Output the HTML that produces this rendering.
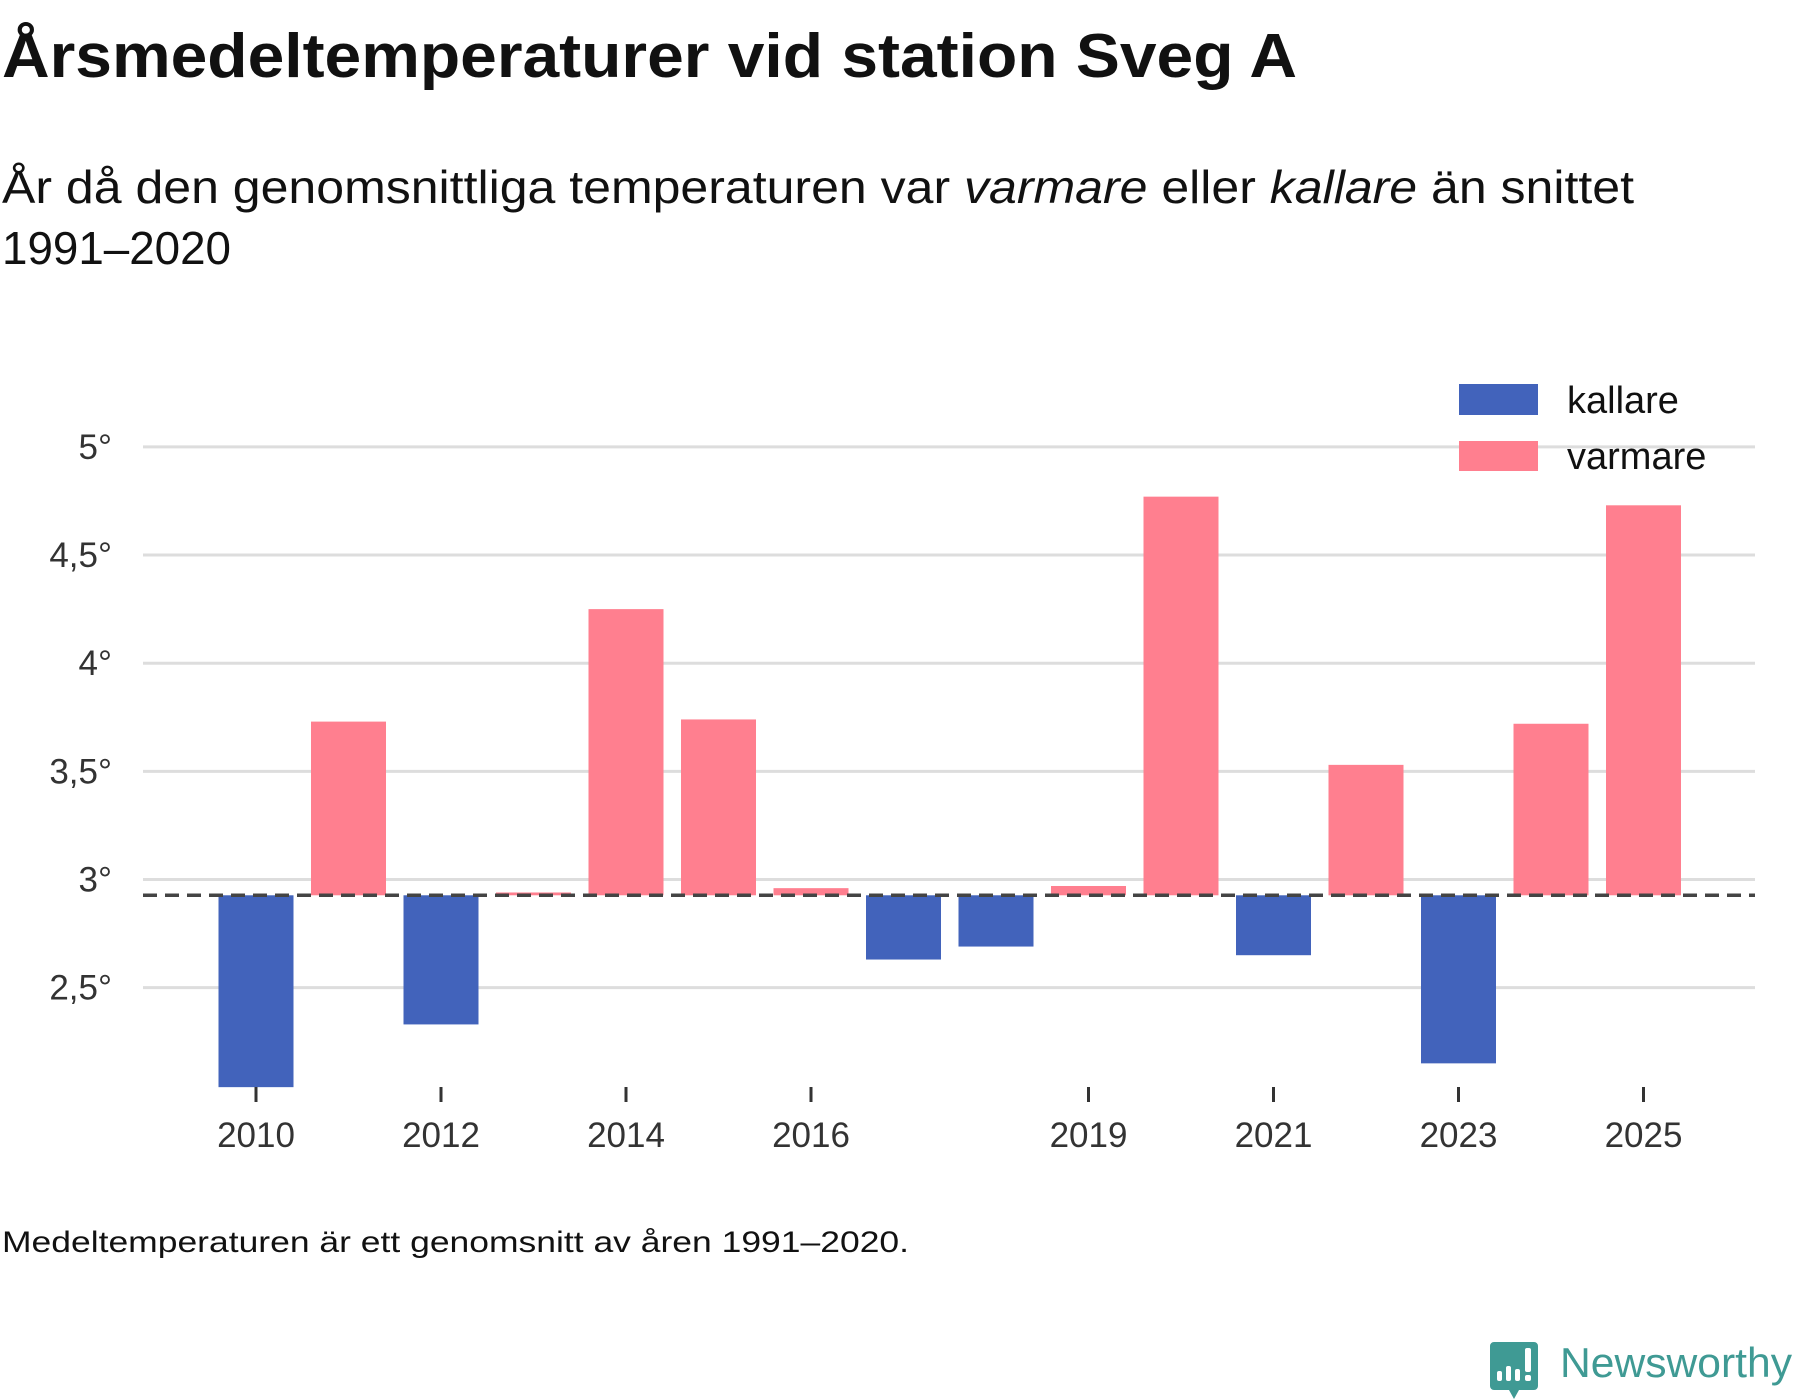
<!DOCTYPE html>
<html><head><meta charset="utf-8"><style>
html,body{margin:0;padding:0;background:#fff;}
svg{display:block;font-family:"Liberation Sans",sans-serif;}
</style></head><body>
<svg id="chart" width="1800" height="1400" viewBox="0 0 1800 1400" xmlns="http://www.w3.org/2000/svg">
<text x="2" y="77" font-size="62" font-weight="bold" fill="#111" textLength="1295" lengthAdjust="spacingAndGlyphs">Årsmedeltemperaturer vid station Sveg A</text>
<text x="2" y="203" font-size="46" fill="#111" textLength="1632" lengthAdjust="spacingAndGlyphs">År då den genomsnittliga temperaturen var <tspan font-style="italic">varmare</tspan> eller <tspan font-style="italic">kallare</tspan> än snittet</text>
<text x="2" y="264" font-size="46" fill="#111" textLength="229" lengthAdjust="spacingAndGlyphs">1991–2020</text>
<g id="grid"></g><g id="bars"></g><g id="axes"></g>
<g>
<rect x="1459" y="384" width="79" height="31" fill="#4263BB"/>
<text x="1567" y="413" font-size="38" fill="#111">kallare</text>
<rect x="1459" y="441" width="79" height="30" fill="#FF7F8F"/>
<text x="1567" y="469" font-size="38" fill="#111">varmare</text>
</g>
<text x="2" y="1252" font-size="30" fill="#111" textLength="907" lengthAdjust="spacingAndGlyphs">Medeltemperaturen är ett genomsnitt av åren 1991–2020.</text>
<g>
<path d="M1494 1342 h40 a4 4 0 0 1 4 4 v40 a4 4 0 0 1 -4 4 h-15 l-5 9 l-5 -9 h-15 a4 4 0 0 1 -4 -4 v-40 a4 4 0 0 1 4 -4z" fill="#3F9A94"/>
<rect x="1497" y="1371" width="5" height="10" rx="2" fill="#fff"/>
<rect x="1506" y="1366" width="5" height="15" rx="2" fill="#fff"/>
<rect x="1515" y="1369" width="5" height="12" rx="2" fill="#fff"/>
<rect x="1525" y="1348" width="6" height="24" rx="2" fill="#fff"/>
<rect x="1525" y="1375" width="6" height="6" rx="2" fill="#fff"/>
<text x="1560" y="1377" font-size="42" fill="#3F9A94" textLength="232" lengthAdjust="spacingAndGlyphs">Newsworthy</text>
</g>
</svg>
<script>
const years = [2010,2011,2012,2013,2014,2015,2016,2017,2018,2019,2020,2021,2022,2023,2024,2025];
const temps = [2.04,3.73,2.33,2.94,4.25,3.74,2.96,2.63,2.69,2.97,4.77,2.65,3.53,2.15,3.72,4.73];
const baseline = 2.927;
const yTicks = [2.5,3,3.5,4,4.5,5];
const yTickLabels = ["2,5°","3°","3,5°","4°","4,5°","5°"];
const xTickYears = [2010,2012,2014,2016,2019,2021,2023,2025];

const NS="http://www.w3.org/2000/svg";
const yScale = v => 879.5 - (v-3)*216.3;
const xScale = yr => 256 + (yr-2010)*92.5;
const barW = 75;
function mk(tag, attrs, parent){const e=document.createElementNS(NS,tag);for(const k in attrs)e.setAttribute(k,attrs[k]);parent.appendChild(e);return e;}
const grid=document.getElementById('grid'), bars=document.getElementById('bars'), axes=document.getElementById('axes');
yTicks.forEach((t,i)=>{
  const l=mk('line',{x1:143,x2:1755,y1:yScale(t),y2:yScale(t),stroke:'#dddddd','stroke-width':3},grid);
  
  
  const tx=mk('text',{x:112,y:yScale(t)+12,'font-size':35,fill:'#333','text-anchor':'end'},axes);
  tx.textContent=yTickLabels[i];
  
  
});
years.forEach((yr,i)=>{
  const v=temps[i];
  const y0=yScale(baseline), y1=yScale(v);
  const r=mk('rect',{x:xScale(yr)-barW/2,y:Math.min(y0,y1),width:barW,height:Math.abs(y1-y0),fill:v>=baseline?'#FF7F8F':'#4263BB'},bars);
  
  
});
const dl=mk('line',{x1:143,x2:1755,y1:yScale(baseline),y2:yScale(baseline),stroke:'#444','stroke-width':3.5,'stroke-dasharray':'14 8'},axes);


xTickYears.forEach(yr=>{
  const tk=mk('line',{x1:xScale(yr),x2:xScale(yr),y1:1087,y2:1102,stroke:'#333','stroke-width':3},axes);
  
  
  const tx=mk('text',{x:xScale(yr),y:1147,'font-size':35,fill:'#333','text-anchor':'middle'},axes);
  tx.textContent=yr;
  
  
});
</script>
</body></html>
